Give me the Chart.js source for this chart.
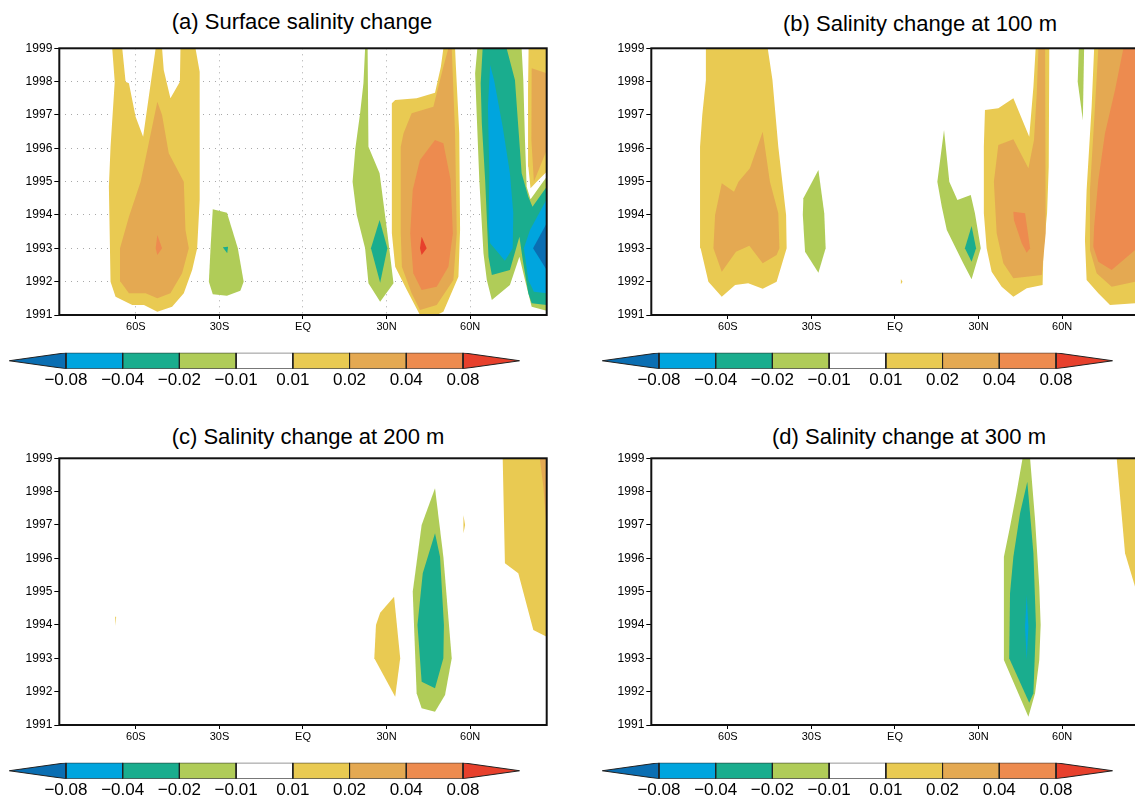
<!DOCTYPE html>
<html><head><meta charset="utf-8">
<script src="https://cdn.jsdelivr.net/npm/chart.js@4.4.1/dist/chart.umd.min.js"></script>
<style>
html,body{margin:0;padding:0;background:#fff;overflow:hidden;width:1135px;height:796px;position:relative;}
canvas{position:absolute;}
.title{position:absolute;font-family:"Liberation Sans",Arial,sans-serif;font-size:22px;line-height:22px;color:#000;white-space:nowrap;transform:translateX(-50%);}
</style></head><body>
<div class="title" style="left:302px;top:10.7px">(a) Surface salinity change</div>
<div class="title" style="left:920px;top:13.1px">(b) Salinity change at 100 m</div>
<div class="title" style="left:308px;top:426.4px">(c) Salinity change at 200 m</div>
<div class="title" style="left:909px;top:426.4px">(d) Salinity change at 300 m</div>
<script>
// ---------- axes / legend data ----------
const latTicks = [-60, -30, 0, 30, 60];
const latLabels = ['60S', '30S', 'EQ', '30N', '60N'];
const yearTicks = [1991, 1992, 1993, 1994, 1995, 1996, 1997, 1998, 1999];
const levelLabels = ['\u22120.08', '\u22120.04', '\u22120.02', '\u22120.01', '0.01', '0.02', '0.04', '0.08'];
// bin index: 0 <-0.08, 1 [-0.08,-0.04), 2 [-0.04,-0.02), 3 [-0.02,-0.01), 4 white, 5 [0.01,0.02), 6 [0.02,0.04), 7 [0.04,0.08), 8 >=0.08
const binColors = ['#0a6eb2', '#00a5de', '#1aad8e', '#b0cc58', '#ffffff', '#e9ca52', '#e4a952', '#ed8b4f', '#e7402c'];

// ---------- contour regions [lat, year] ----------
// (a) surface
const A_y1 = [[-68.5,1999],[-64.9,1999],[-63.7,1998],[-62.5,1997.95],[-60.1,1996.95],[-57.4,1996.35],[-52.9,1999],[-50.6,1999],[-50.0,1998.35],[-47.6,1997.5],[-44.2,1998],[-44.0,1999],[-38.6,1999],[-37.1,1998.3],[-37.1,1996.05],[-37.1,1994.45],[-38.0,1993],[-39.8,1992.35],[-42.8,1991.65],[-47.0,1991.25],[-52.3,1991.1],[-57.1,1991.3],[-61.3,1991.3],[-67.3,1991.55],[-69.1,1992.0],[-69.7,1994.85],[-69.1,1996.05],[-67.6,1998]];
const A_o1 = [[-52.3,1997.4],[-50.6,1997.0],[-48.2,1995.85],[-42.8,1995.0],[-42.2,1993.55],[-41.0,1993.0],[-43.4,1992.25],[-47.6,1991.65],[-52.3,1991.5],[-56.5,1991.65],[-62.5,1991.65],[-65.5,1992.0],[-65.7,1993.0],[-62.5,1993.95],[-58.3,1995.0],[-55.9,1995.95]];
const A_r1 = [[-52.3,1993.4],[-50.6,1993.0],[-52.3,1992.8],[-52.9,1993.0]];
const A_g1 = [[-32.4,1994.17],[-27.3,1994.07],[-23.4,1993.0],[-21.3,1992.0],[-22.5,1991.73],[-27.3,1991.58],[-32.4,1991.62],[-33.8,1992.0],[-33.2,1993.0]];
const A_t1 = [[-28.8,1993.03],[-26.9,1993.05],[-27.2,1992.85]];
const A_g2 = [[22.3,1999],[23.2,1999],[23.5,1996.05],[27.5,1995.25],[30.3,1993.45],[32.5,1991.95],[27.7,1991.4],[23.5,1991.95],[22.3,1993.0],[19.3,1994.0],[17.8,1995.0],[18.8,1996.0],[20.5,1997.05],[21.7,1997.95]];
const A_t2 = [[27.5,1993.85],[30.3,1993.0],[27.7,1991.97],[24.4,1993.0]];
const A_y2 = [[50.4,1999],[54.6,1999],[54.9,1998.45],[56.1,1996.45],[56.4,1993.55],[55.8,1992.15],[50.4,1991.1],[48.0,1991],[42.0,1991],[37.3,1991.75],[33.1,1992.45],[31.9,1993.45],[31.9,1997.35],[33.1,1997.45],[40.8,1997.5],[47.4,1997.67],[49.5,1998.45]];
const A_o2 = [[36.1,1996.45],[39.0,1997.05],[46.8,1997.25],[50.4,1998.45],[52.2,1999],[53.4,1999],[54.6,1996.45],[55.2,1993.45],[54.0,1992.05],[48.0,1991.3],[42.0,1991.15],[39.0,1991.65],[35.5,1992.45],[35.1,1993.45],[35.1,1996.05]];
const A_r2 = [[47.4,1996.25],[50.4,1996.15],[53.0,1995.05],[53.8,1993.45],[52.2,1992.45],[48.0,1991.85],[42.6,1991.75],[39.6,1992.25],[38.5,1993.45],[39.4,1994.75],[42.0,1995.65]];
const A_rr2 = [[42.6,1993.35],[44.4,1993.0],[42.6,1992.8],[42.0,1993.0]];
const A_g3 = [[62.6,1999],[61.8,1998.25],[62.4,1996.95],[63.3,1995.05],[64.8,1992.85],[66.0,1992.05],[67.8,1991.45],[74.3,1991.9],[77.7,1992.75],[79.7,1992.05],[82.1,1991.25],[87.5,1991.13],[87.5,1995.15],[81.7,1994.47],[80.3,1994.85],[79.7,1996.25],[79.1,1998.05],[78.5,1999]];
const A_t3 = [[64.5,1999],[63.8,1997.95],[64.2,1996.75],[65.4,1995.05],[66.6,1992.75],[67.8,1992.2],[74.3,1992.35],[77.7,1993.35],[78.9,1992.65],[80.9,1991.65],[82.1,1991.35],[87.5,1991.3],[87.5,1994.85],[82.4,1994.25],[80.9,1994.55],[78.5,1995.25],[77.3,1996.65],[76.1,1998.05],[73.1,1999]];
const A_b3a = [[67.2,1998.5],[66.4,1997.25],[66.9,1995.25],[66.6,1993.65],[67.2,1993.15],[72.5,1992.63],[75.3,1993.0],[75.5,1994.05],[74.3,1995.25],[71.7,1996.65],[68.6,1998.05]];
const A_b3b = [[87.5,1994.47],[81.5,1993.55],[79.3,1993.0],[80.9,1992.05],[82.9,1991.7],[87.5,1991.65]];
const A_d3 = [[87.5,1993.75],[82.6,1993.0],[87.5,1992.35]];
const A_y3 = [[81.0,1999],[87.5,1999],[87.5,1995.3],[83.9,1995.0],[81.7,1994.8],[80.9,1995.45],[80.8,1997.75]];
const A_o3 = [[82.1,1998.4],[87.5,1998.25],[87.5,1995.95],[82.9,1995.0],[82.0,1996.25]];
// (b) 100 m
const B_y1 = [[-67.9,1999],[-45.7,1999],[-44.0,1998.05],[-41.9,1996.05],[-39.1,1994.0],[-38.9,1993],[-42.5,1992.0],[-47.5,1991.79],[-52.7,1991.95],[-57.4,1991.9],[-62.2,1991.55],[-67.0,1992.0],[-69.8,1993.0],[-70.0,1996.05],[-69.2,1997.0],[-67.9,1998.05]];
const B_o1 = [[-62.2,1994.95],[-57.8,1994.7],[-56.2,1995.0],[-52.1,1995.4],[-47.5,1996.5],[-44.9,1995.0],[-41.9,1994.05],[-41.5,1993.0],[-42.5,1992.8],[-47.5,1992.55],[-52.3,1993.08],[-57.1,1992.9],[-62.2,1992.3],[-65.2,1993.0],[-64.6,1994.0]];
const B_g1 = [[-32.9,1994.5],[-27.5,1995.35],[-25.4,1994.05],[-24.9,1993.0],[-27.5,1992.27],[-32.3,1992.9],[-33.1,1994.0]];
const B_ydot = [[2.1,1992.08],[2.7,1992.0],[2.1,1991.92]];
const B_g2 = [[17.6,1996.55],[19.5,1995.0],[22.4,1994.45],[27.2,1994.6],[28.7,1994.05],[30.8,1993.0],[27.5,1992.07],[24.5,1992.55],[18.6,1993.55],[16.8,1994.25],[15.2,1995.0]];
const B_t2 = [[27.5,1993.67],[29.1,1993.0],[27.5,1992.6],[25.1,1993.0]];
const B_y2 = [[32.3,1997.15],[37.1,1997.2],[42.5,1997.5],[48.2,1996.35],[49.7,1997.85],[50.5,1999],[55.4,1999],[55.2,1995.45],[54.6,1994.05],[53.3,1992.95],[53.0,1991.9],[47.3,1991.8],[42.5,1991.55],[38.3,1991.85],[34.7,1992.3],[32.9,1993.0],[31.9,1994.05],[31.9,1996.05]];
const B_o2 = [[37.1,1996.1],[42.5,1996.27],[47.9,1995.4],[49.9,1996.25],[50.9,1997.65],[51.5,1999],[53.9,1999],[54.2,1996.45],[54.0,1993.45],[52.7,1992.2],[42.5,1992.1],[38.9,1992.55],[36.5,1993.45],[35.5,1995.0]];
const B_r2 = [[42.5,1994.1],[46.7,1994.05],[48.5,1993.0],[47.3,1992.87],[45.5,1993.15],[42.7,1993.85]];
const B_g3 = [[66.0,1999],[67.9,1999],[67.45,1996.85],[65.6,1998.0]];
const B_y3 = [[71.5,1999],[70.6,1997.25],[68.8,1994.75],[68.2,1993.25],[68.8,1992.05],[73.0,1991.65],[77.2,1991.3],[86.2,1991.35],[90,1991.4],[90,1999]];
const B_o3 = [[73.0,1999],[71.8,1997.25],[70.0,1994.75],[70.0,1992.95],[72.4,1992.25],[77.8,1991.85],[86.2,1992.0],[90,1992.05],[90,1999]];
const B_r3 = [[82.0,1999],[79.0,1997.75],[75.4,1996.45],[73.0,1995.05],[71.5,1993.65],[71.2,1993.05],[73.0,1992.6],[77.8,1992.35],[86.2,1992.95],[90,1993.1],[90,1999]];
// (c) 200 m
const C_ys = [[-67.45,1994.25],[-67.1,1994.25],[-67.25,1993.98]];
const C_y1 = [[27.7,1994.37],[32.7,1994.85],[34.9,1993.0],[33.1,1991.85],[25.6,1993.0],[26.2,1994.0]];
const C_g1 = [[47.4,1998.1],[50.4,1996.05],[53.4,1993.0],[51.0,1991.9],[47.4,1991.4],[42.6,1991.5],[40.8,1991.95],[39.4,1995.0],[42.6,1997.0]];
const C_t1 = [[47.4,1996.75],[49.2,1996.05],[50.6,1994.0],[50.4,1993.0],[47.4,1992.1],[42.6,1992.3],[41.1,1994.0],[43.0,1995.55]];
const C_yd = [[57.6,1997.3],[58.2,1997.0],[57.6,1996.75]];
const C_y2 = [[71.7,1999],[72.5,1995.85],[77.3,1995.55],[82.7,1993.85],[87.5,1993.65],[90,1993.6],[90,1999]];
const C_o2 = [[85.0,1999],[90,1999],[90,1996.8],[87.5,1996.85],[86.3,1998.15]];
// (d) 300 m
const D_g1 = [[45.8,1999],[48.5,1999],[50.3,1997.15],[51.8,1995.15],[52.3,1994.0],[51.8,1992.95],[50.3,1991.95],[47.9,1991.25],[39.1,1992.95],[39.1,1996.05],[41.3,1996.95],[43.7,1998.0]];
const D_t1 = [[47.5,1998.3],[49.7,1996.15],[50.6,1994.0],[49.7,1991.95],[48.2,1991.67],[41.0,1993.0],[41.3,1994.95],[42.5,1996.05],[44.9,1997.35]];
const D_b1 = [[47.3,1994.9],[47.9,1993.95],[47.3,1992.95],[46.7,1993.95]];
const D_y2 = [[79.6,1999],[82.6,1996.15],[86.2,1995.15],[87.5,1994.85],[90,1994.6],[90,1999]];

// [bin, region]
const panelA = [[5,A_y1],[6,A_o1],[7,A_r1],[3,A_g1],[2,A_t1],[3,A_g2],[2,A_t2],[5,A_y2],[6,A_o2],[7,A_r2],[8,A_rr2],[3,A_g3],[2,A_t3],[1,A_b3a],[1,A_b3b],[0,A_d3],[5,A_y3],[6,A_o3]];
const panelB = [[5,B_y1],[6,B_o1],[3,B_g1],[5,B_ydot],[3,B_g2],[2,B_t2],[5,B_y2],[6,B_o2],[7,B_r2],[3,B_g3],[5,B_y3],[6,B_o3],[7,B_r3]];
const panelC = [[5,C_ys],[5,C_y1],[3,C_g1],[2,C_t1],[5,C_yd],[5,C_y2],[6,C_o2]];
const panelD = [[3,D_g1],[2,D_t1],[1,D_b1],[5,D_y2]];

// ---------- rendering ----------
const FONT = '"Liberation Sans", Arial, sans-serif';
const framePlugin = {
  id: 'frame',
  afterDatasetsDraw(chart) {
    const {ctx, chartArea: a} = chart;
    ctx.save();
    ctx.strokeStyle = '#111';
    ctx.lineWidth = 2;
    ctx.strokeRect(a.left, a.top, a.right - a.left, a.bottom - a.top);
    ctx.restore();
  }
};

function addCanvas(left, top, w, h) {
  const cv = document.createElement('canvas');
  cv.width = w; cv.height = h;
  cv.style.left = left + 'px'; cv.style.top = top + 'px';
  cv.style.width = w + 'px'; cv.style.height = h + 'px';
  document.body.appendChild(cv);
  return cv;
}

function makePanel(left, top, layers, showGrid) {
  const cv = addCanvas(left, top, 560, 300);
  const ordered = layers.slice().sort((p, q) => Math.abs(p[0] - 4) - Math.abs(q[0] - 4));
  const datasets = ordered.map((L, i) => ({
    data: L[1].map(p => ({x: p[0], y: p[1]})),
    showLine: true, fill: 'shape', tension: 0,
    backgroundColor: binColors[L[0]],
    borderColor: 'rgba(0,0,0,0)', borderWidth: 0,
    pointRadius: 0, pointHoverRadius: 0,
    order: ordered.length - i
  }));
  new Chart(cv, {
    type: 'scatter',
    data: {datasets},
    plugins: [framePlugin],
    options: {
      responsive: false, animation: false, events: [],
      layout: {padding: {top: 10.3, right: 13.3, bottom: 0, left: 0}},
      plugins: {legend: {display: false}, tooltip: {enabled: false}, title: {display: false}},
      scales: {
        x: {
          type: 'linear', min: -87.5, max: 87.5,
          afterBuildTicks: s => { s.ticks = latTicks.map(v => ({value: v})); },
          afterFit: s => { s.height = 23; },
          ticks: {callback: v => latLabels[latTicks.indexOf(v)], font: {family: FONT, size: 11}, color: '#000', padding: 1, maxRotation: 0, autoSkip: false},
          grid: {display: true, drawOnChartArea: showGrid, color: '#a8a8a8', lineWidth: 1, tickLength: 4, tickColor: '#000', tickWidth: 1},
          border: {display: false, dash: [1, 5]}
        },
        y: {
          type: 'linear', min: 1991, max: 1999,
          afterBuildTicks: s => { s.ticks = yearTicks.map(v => ({value: v})); },
          afterFit: s => { s.width = 59.3; },
          ticks: {callback: v => String(v), font: {family: FONT, size: 12}, color: '#000', padding: 2, autoSkip: false},
          grid: {display: true, drawOnChartArea: showGrid, color: '#a8a8a8', lineWidth: 1, tickLength: 5, tickColor: '#000', tickWidth: 1},
          border: {display: false, dash: [1, 5]}
        }
      }
    }
  });
}

function makeColorbar(left, top) {
  const cv = addCanvas(left, top, 540, 41);
  const n = binColors.length;
  const datasets = binColors.map((c, k) => {
    let pts;
    if (k === 0) pts = [[0, 0.5], [1, 1], [1, 0], [0, 0.5]];
    else if (k === n - 1) pts = [[k, 0], [k, 1], [k + 1, 0.5], [k, 0]];
    else pts = [[k, 0], [k, 1], [k + 1, 1], [k + 1, 0], [k, 0]];
    return {
      data: pts.map(p => ({x: p[0], y: p[1]})),
      showLine: true, fill: 'shape', tension: 0,
      backgroundColor: c, borderColor: '#222', borderWidth: 1,
      pointRadius: 0, pointHoverRadius: 0
    };
  });
  new Chart(cv, {
    type: 'scatter',
    data: {datasets},
    options: {
      responsive: false, animation: false, events: [],
      layout: {padding: {top: 7.8, right: 20.3, bottom: 0, left: 9.2}},
      plugins: {legend: {display: false}, tooltip: {enabled: false}},
      scales: {
        x: {
          type: 'linear', min: 0, max: n,
          afterBuildTicks: s => { s.ticks = levelLabels.map((t, i) => ({value: i + 1})); },
          afterFit: s => { s.height = 17.3; },
          ticks: {callback: v => levelLabels[v - 1], font: {family: FONT, size: 17}, color: '#000', padding: -7, maxRotation: 0, autoSkip: false},
          grid: {display: false},
          border: {display: false}
        },
        y: {type: 'linear', min: 0, max: 1, display: false}
      }
    }
  });
}

makePanel(0, 38, panelA, true);
makePanel(592, 38, panelB, false);
makePanel(0, 448, panelC, false);
makePanel(592, 448, panelD, false);
makeColorbar(0, 345);
makeColorbar(592.5, 345);
makeColorbar(0, 755);
makeColorbar(592.5, 755);
</script>
</body></html>
